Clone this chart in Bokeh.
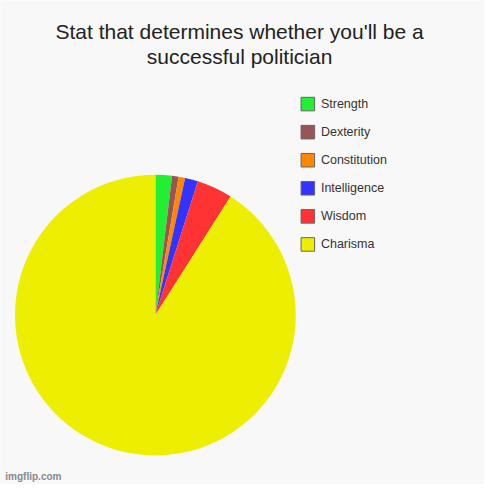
from bokeh.plotting import figure
from bokeh.models import Range1d, ColumnDataSource
from bokeh.core.properties import value
from bokeh.embed import file_html
from bokeh.resources import INLINE
import numpy as np

categories = ["Strength", "Dexterity", "Constitution", "Intelligence", "Wisdom", "Charisma"]
values = [1.9, 0.75, 0.75, 1.5, 4.1, 91.0]
colors = ["#22ee33", "#995555", "#ff8800", "#3333ff", "#ff3333", "#eeee00"]
title_lines = ["Stat that determines whether you'll be a", "successful politician"]

W = 484
p = figure(width=W, height=W, output_backend="svg", toolbar_location=None,
           x_range=Range1d(0, 500), y_range=Range1d(0, 500))
p.axis.visible = False
p.grid.visible = False
p.outline_line_color = None
p.background_fill_color = "#f8f8f8"
p.border_fill_color = "#f8f8f8"
p.min_border = 0

vals = np.array(values, dtype=float)
frac = vals / vals.sum()
ends = np.pi / 2 - 2 * np.pi * np.cumsum(frac)
starts = np.concatenate([[np.pi / 2], ends[:-1]])
src = ColumnDataSource(dict(start=starts, end=ends, color=colors, cat=categories))
p.wedge(x=160, y=500 - 325, radius=145, start_angle="start", end_angle="end",
        direction="clock", fill_color="color", line_color=None, source=src)

# legend
ly = [500 - (107 + 29 * i) for i in range(len(categories))]
lsrc = ColumnDataSource(dict(y=ly, color=colors, cat=categories))
p.rect(x=317.5, y="y", width=14, height=14, fill_color="color", line_color="#666666",
       line_width=1, source=lsrc)
p.text(x=331, y="y", text="cat", text_baseline="middle", text_align="left",
       text_font=value("Liberation Sans"), text_font_size="12.5px", text_color="#333333",
       source=lsrc)

# title
p.text(x=[247, 247], y=[500 - 32, 500 - 58], text=title_lines, text_align="center",
       text_baseline="middle", text_font=value("Liberation Sans"), text_font_size="21px",
       text_color="#222222")

# watermark
p.text(x=[5], y=[500 - 492], text=["imgflip.com"], text_align="left", text_baseline="middle",
       text_font=value("Liberation Sans"), text_font_size="10px", text_font_style="bold",
       text_color="#888888")

open("out.html", "w").write(file_html(p, INLINE))
